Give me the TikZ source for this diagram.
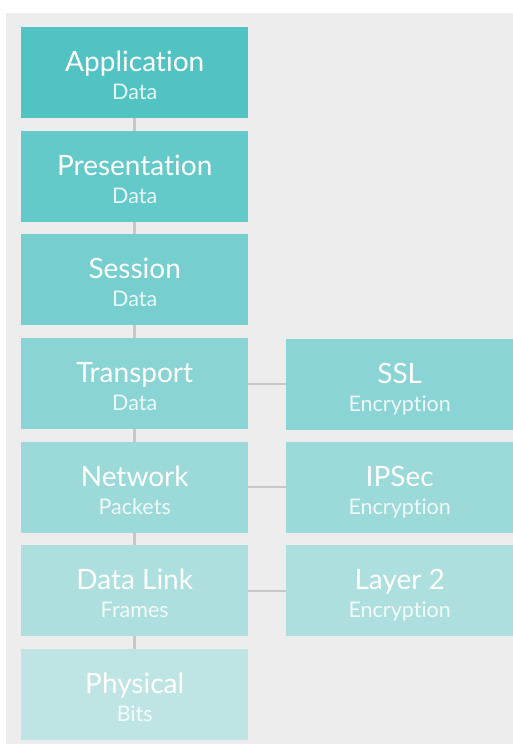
\documentclass[tikz,border=0pt]{standalone}
\usepackage{fontspec}
\setmainfont{Lato}[Ligatures=NoCommon]
\begin{document}
\begin{tikzpicture}[x=1pt,y=-1pt,
  layer/.style={fill=#1, draw=none, minimum width=227pt, minimum height=91pt, inner sep=0pt, anchor=north west},
  ttl/.style={text=white, font=\fontsize{28}{28}\selectfont, anchor=base},
  sub/.style={text=white, text opacity=0.85, font=\fontsize{21.5}{22}\selectfont, anchor=base},
  conn/.style={draw=black!22, line width=2.5pt}]
\useasboundingbox (0,0) rectangle (513,745);
\fill[white] (0,0) rectangle (513,745);
\fill[black!7] (6,13) rectangle (513,744);
\definecolor{c1}{RGB}{82,195,195}
\definecolor{c2}{RGB}{100,201,201}
\definecolor{c3}{RGB}{118,206,206}
\definecolor{c4}{RGB}{138,212,213}
\definecolor{c5}{RGB}{156,217,217}
\definecolor{c6}{RGB}{173,223,223}
\definecolor{c7}{RGB}{190,228,228}
% connectors (behind)
\coordinate (vtop) at (134.5,72);
\coordinate (vbot) at (134.5,694);
\draw[conn] (vtop) -- (vbot);
\coordinate (h1l) at (248,384); \coordinate (h1r) at (286,384);
\coordinate (h2l) at (248,487); \coordinate (h2r) at (286,487);
\coordinate (h3l) at (248,591); \coordinate (h3r) at (286,591);
\draw[conn] (h1l) -- (h1r);
\draw[conn] (h2l) -- (h2r);
\draw[conn] (h3l) -- (h3r);
% left column
\node[layer=c1] (app) at (21,27) {};
\node[layer=c2] (pres) at (21,131) {};
\node[layer=c3] (sess) at (21,234) {};
\node[layer=c4] (trans) at (21,338) {};
\node[layer=c5] (net) at (21,442) {};
\node[layer=c6] (dl) at (21,545) {};
\node[layer=c7] (phys) at (21,649) {};
% right column
\node[layer=c4] (ssl) at (286,339) {};
\node[layer=c5] (ipsec) at (286,442) {};
\node[layer=c6] (l2) at (286,545) {};
% labels
\foreach \n/\t/\s in {app/Application/Data, pres/Presentation/Data, sess/Session/Data, trans/Transport/Data, net/Network/Packets, dl/Data Link/Frames, phys/Physical/Bits, ssl/SSL/Encryption, ipsec/IPSec/Encryption, l2/Layer 2/Encryption}{
  \node[ttl] (\n-t) at ([yshift=1.5pt]\n.center) {\t};
  \node[sub] (\n-s) at ([yshift=-26.5pt]\n.center) {\s};
}
\end{tikzpicture}
\end{document}
